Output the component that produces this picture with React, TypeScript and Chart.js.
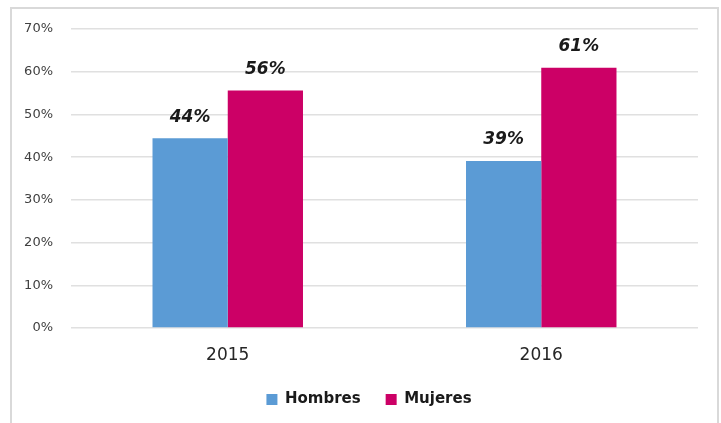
import React, { useEffect, useRef } from "react";
import { Chart, registerables } from "chart.js";

Chart.register(...registerables);

const categories = ["2015", "2016"];
const hombres = [44.4, 39.1];
const mujeres = [55.6, 60.9];
const labelsHombres = ["44%", "39%"];
const labelsMujeres = ["56%", "61%"];
const yTicks = [0, 10, 20, 30, 40, 50, 60, 70];

const FONT = "'DejaVu Sans', sans-serif";

const borderPlugin = {
  id: "frame",
  beforeDraw(chart: any) {
    const ctx = chart.ctx;
    ctx.save();
    ctx.fillStyle = "#ffffff";
    ctx.fillRect(0, 0, chart.width, chart.height);
    ctx.strokeStyle = "#d9d9d9";
    ctx.lineWidth = 2;
    ctx.strokeRect(11, 8, 707, 430);
    ctx.restore();
  },
};

const valueLabelPlugin = {
  id: "valueLabels",
  afterDatasetsDraw(chart: any) {
    const ctx = chart.ctx;
    const sets = [labelsHombres, labelsMujeres];
    ctx.save();
    ctx.font = "italic bold 17px " + FONT;
    ctx.fillStyle = "#1a1a1a";
    ctx.textAlign = "center";
    ctx.textBaseline = "middle";
    chart.data.datasets.forEach((ds: any, i: number) => {
      const meta = chart.getDatasetMeta(i);
      meta.data.forEach((bar: any, j: number) => {
        ctx.fillText(sets[i][j], bar.x, bar.y - 21);
      });
    });
    ctx.restore();
  },
};

export default function App() {
  const ref = useRef<HTMLCanvasElement>(null);
  useEffect(() => {
    document.body.style.margin = "0";
    const chart = new Chart(ref.current!, {
      type: "bar",
      data: {
        labels: categories,
        datasets: [
          { label: "Hombres", data: hombres, backgroundColor: "#5B9BD5", categoryPercentage: 0.48, barPercentage: 1 },
          { label: "Mujeres", data: mujeres, backgroundColor: "#CC0066", categoryPercentage: 0.48, barPercentage: 1 },
        ],
      },
      options: {
        animation: false,
        responsive: false,
        layout: { padding: { top: 29, right: 0, left: 17, bottom: 6 } },
        scales: {
          y: {
            min: 0,
            max: 70,
            afterBuildTicks(scale: any) {
              scale.ticks = yTicks.map((v) => ({ value: v }));
            },
            afterFit(scale: any) {
              scale.width = 54;
            },
            ticks: {
              padding: 18,
              color: "#404040",
              font: { family: FONT, size: 13 },
              callback: (v: any) => v + "%",
            },
            grid: { color: "#e0e0e0", lineWidth: 1.5, drawTicks: false },
            border: { display: false },
          },
          yRight: {
            type: "linear",
            position: "right",
            min: 0,
            max: 70,
            afterFit(scale: any) {
              scale.width = 23;
            },
            ticks: { display: false },
            grid: { display: false, drawTicks: false },
            border: { display: false },
          },
          x: {
            afterFit(scale: any) {
              scale.height = 39;
            },
            ticks: {
              padding: 17,
              color: "#262626",
              font: { family: FONT, size: 17 },
            },
            grid: { display: false, drawTicks: false },
            border: { display: false },
          },
        },
        plugins: {
          legend: {
            position: "bottom",
            labels: {
              boxWidth: 11,
              boxHeight: 11,
              padding: 25,
              color: "#1a1a1a",
              font: { family: FONT, size: 15, weight: "bold" },
            },
          },
          tooltip: { enabled: false },
        },
      },
      plugins: [borderPlugin, valueLabelPlugin],
    });
    return () => chart.destroy();
  }, []);
  return <canvas ref={ref} width={721} height={423} style={{ display: "block" }} />;
}
